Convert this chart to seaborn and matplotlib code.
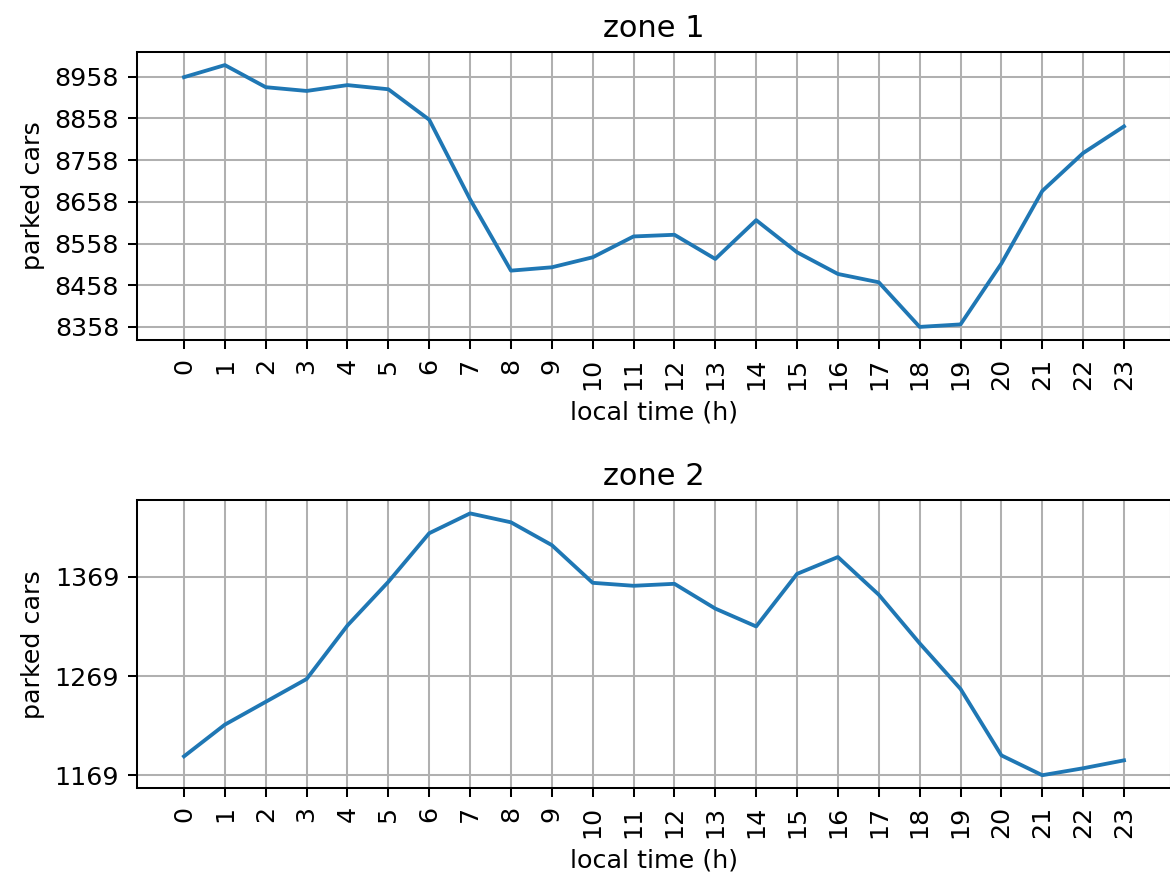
import matplotlib
matplotlib.use("Agg")
import matplotlib.pyplot as plt
import seaborn as sns
import numpy as np

hours = list(range(24))
hour_labels = [str(h) for h in hours]

zone1_cars = [8957, 8986, 8933, 8924, 8938, 8928, 8855, 8664, 8493, 8501, 8525, 8575,
              8579, 8521, 8614, 8537, 8485, 8465, 8358, 8364, 8510, 8684, 8775, 8839]
zone2_cars = [1188, 1220, 1243, 1266, 1320, 1364, 1413, 1433, 1424, 1401, 1363, 1360,
              1362, 1337, 1319, 1372, 1389, 1351, 1302, 1256, 1189, 1169, 1176, 1184]

zone1_ticks = [8358, 8458, 8558, 8658, 8758, 8858, 8958]
zone2_ticks = [1169, 1269, 1369]

titles = ["zone 1", "zone 2"]

plt.rcParams['font.family'] = ['DejaVu Sans']
plt.rcParams['font.size'] = 10

dpi = 183
fig = plt.figure(figsize=(1170 / dpi, 880 / dpi), dpi=dpi)
W, H = 1170, 880
ax1 = fig.add_axes([137 / W, (H - 340) / H, (1171 - 137) / W, 288 / H])
ax2 = fig.add_axes([137 / W, (H - 788.3) / H, (1171 - 137) / W, 288 / H])

for ax, vals, ticks, title in [(ax1, zone1_cars, zone1_ticks, titles[0]),
                               (ax2, zone2_cars, zone2_ticks, titles[1])]:
    sns.lineplot(x=hours, y=vals, ax=ax, color="#1f77b4", linewidth=1.5)
    ax.set_xticks(hours)
    ax.set_xticklabels(hour_labels, rotation=90)
    ax.set_yticks(ticks)
    ax.set_yticklabels([str(t) for t in ticks])
    ax.grid(True, color="#b0b0b0", linewidth=0.8)
    ax.set_axisbelow(True)
    ax.set_xlabel("local time (h)")
    ax.set_ylabel("parked cars")
    ax.set_title(title)
    for s in ax.spines.values():
        s.set_color("black")
        s.set_linewidth(0.8)

fig.savefig("out.png", dpi=dpi)
